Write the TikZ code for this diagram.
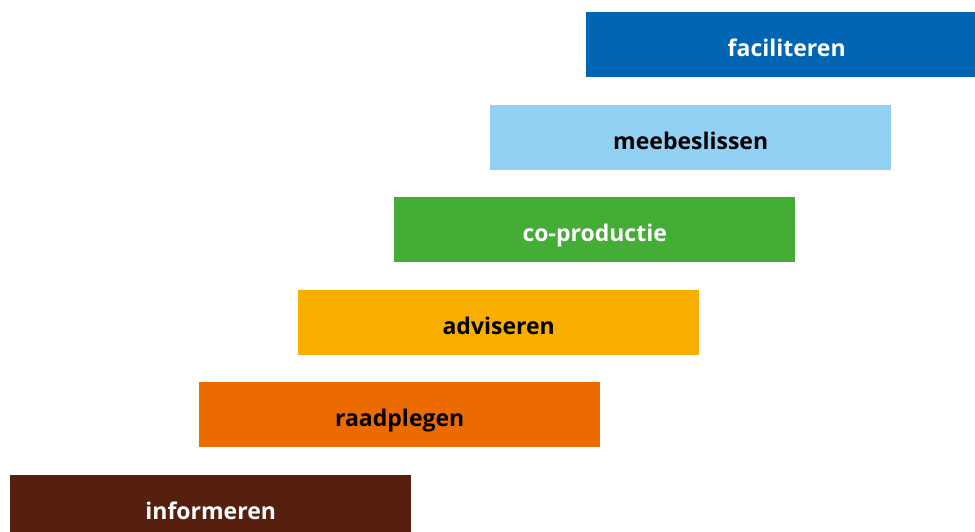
\documentclass[tikz,border=0pt]{standalone}
\usepackage{fontspec}
\setmainfont{Open Sans}
\usepackage{tikz}
\usetikzlibrary{positioning}

\definecolor{fachblue}{HTML}{0066B3}
\definecolor{meelightblue}{HTML}{93D1F4}
\definecolor{cogreen}{HTML}{44AD35}
\definecolor{advyellow}{HTML}{F8AF00}
\definecolor{raadorange}{HTML}{EC6B00}
\definecolor{infobrown}{HTML}{561F0E}

\tikzset{stepbar/.style={anchor=north west, minimum width=401pt, minimum height=64.5pt, inner sep=0pt, text height=24pt, text depth=0pt, font=\bfseries\fontsize{23}{27}\selectfont}}

\begin{document}
\begin{tikzpicture}[x=1pt, y=-1pt]

%//page frame
\useasboundingbox (0,0) rectangle (975,531);
\clip (0,0) rectangle (975,531);

\foreach \x/\y/\name/\col/\tcol/\val in {10/475/informeren/infobrown/white/informeren,
  199/382/raadplegen/raadorange/black/raadplegen,
  298/290/adviseren/advyellow/black/adviseren,
  394/197/coproductie/cogreen/white/co-productie,
  490/105/meebeslissen/meelightblue/black/meebeslissen,
  586/12/faciliteren/fachblue/white/faciliteren}
\node [stepbar, fill=\col, text=\tcol] (\name) at (\x,\y) {\val};

\end{tikzpicture}
\end{document}
